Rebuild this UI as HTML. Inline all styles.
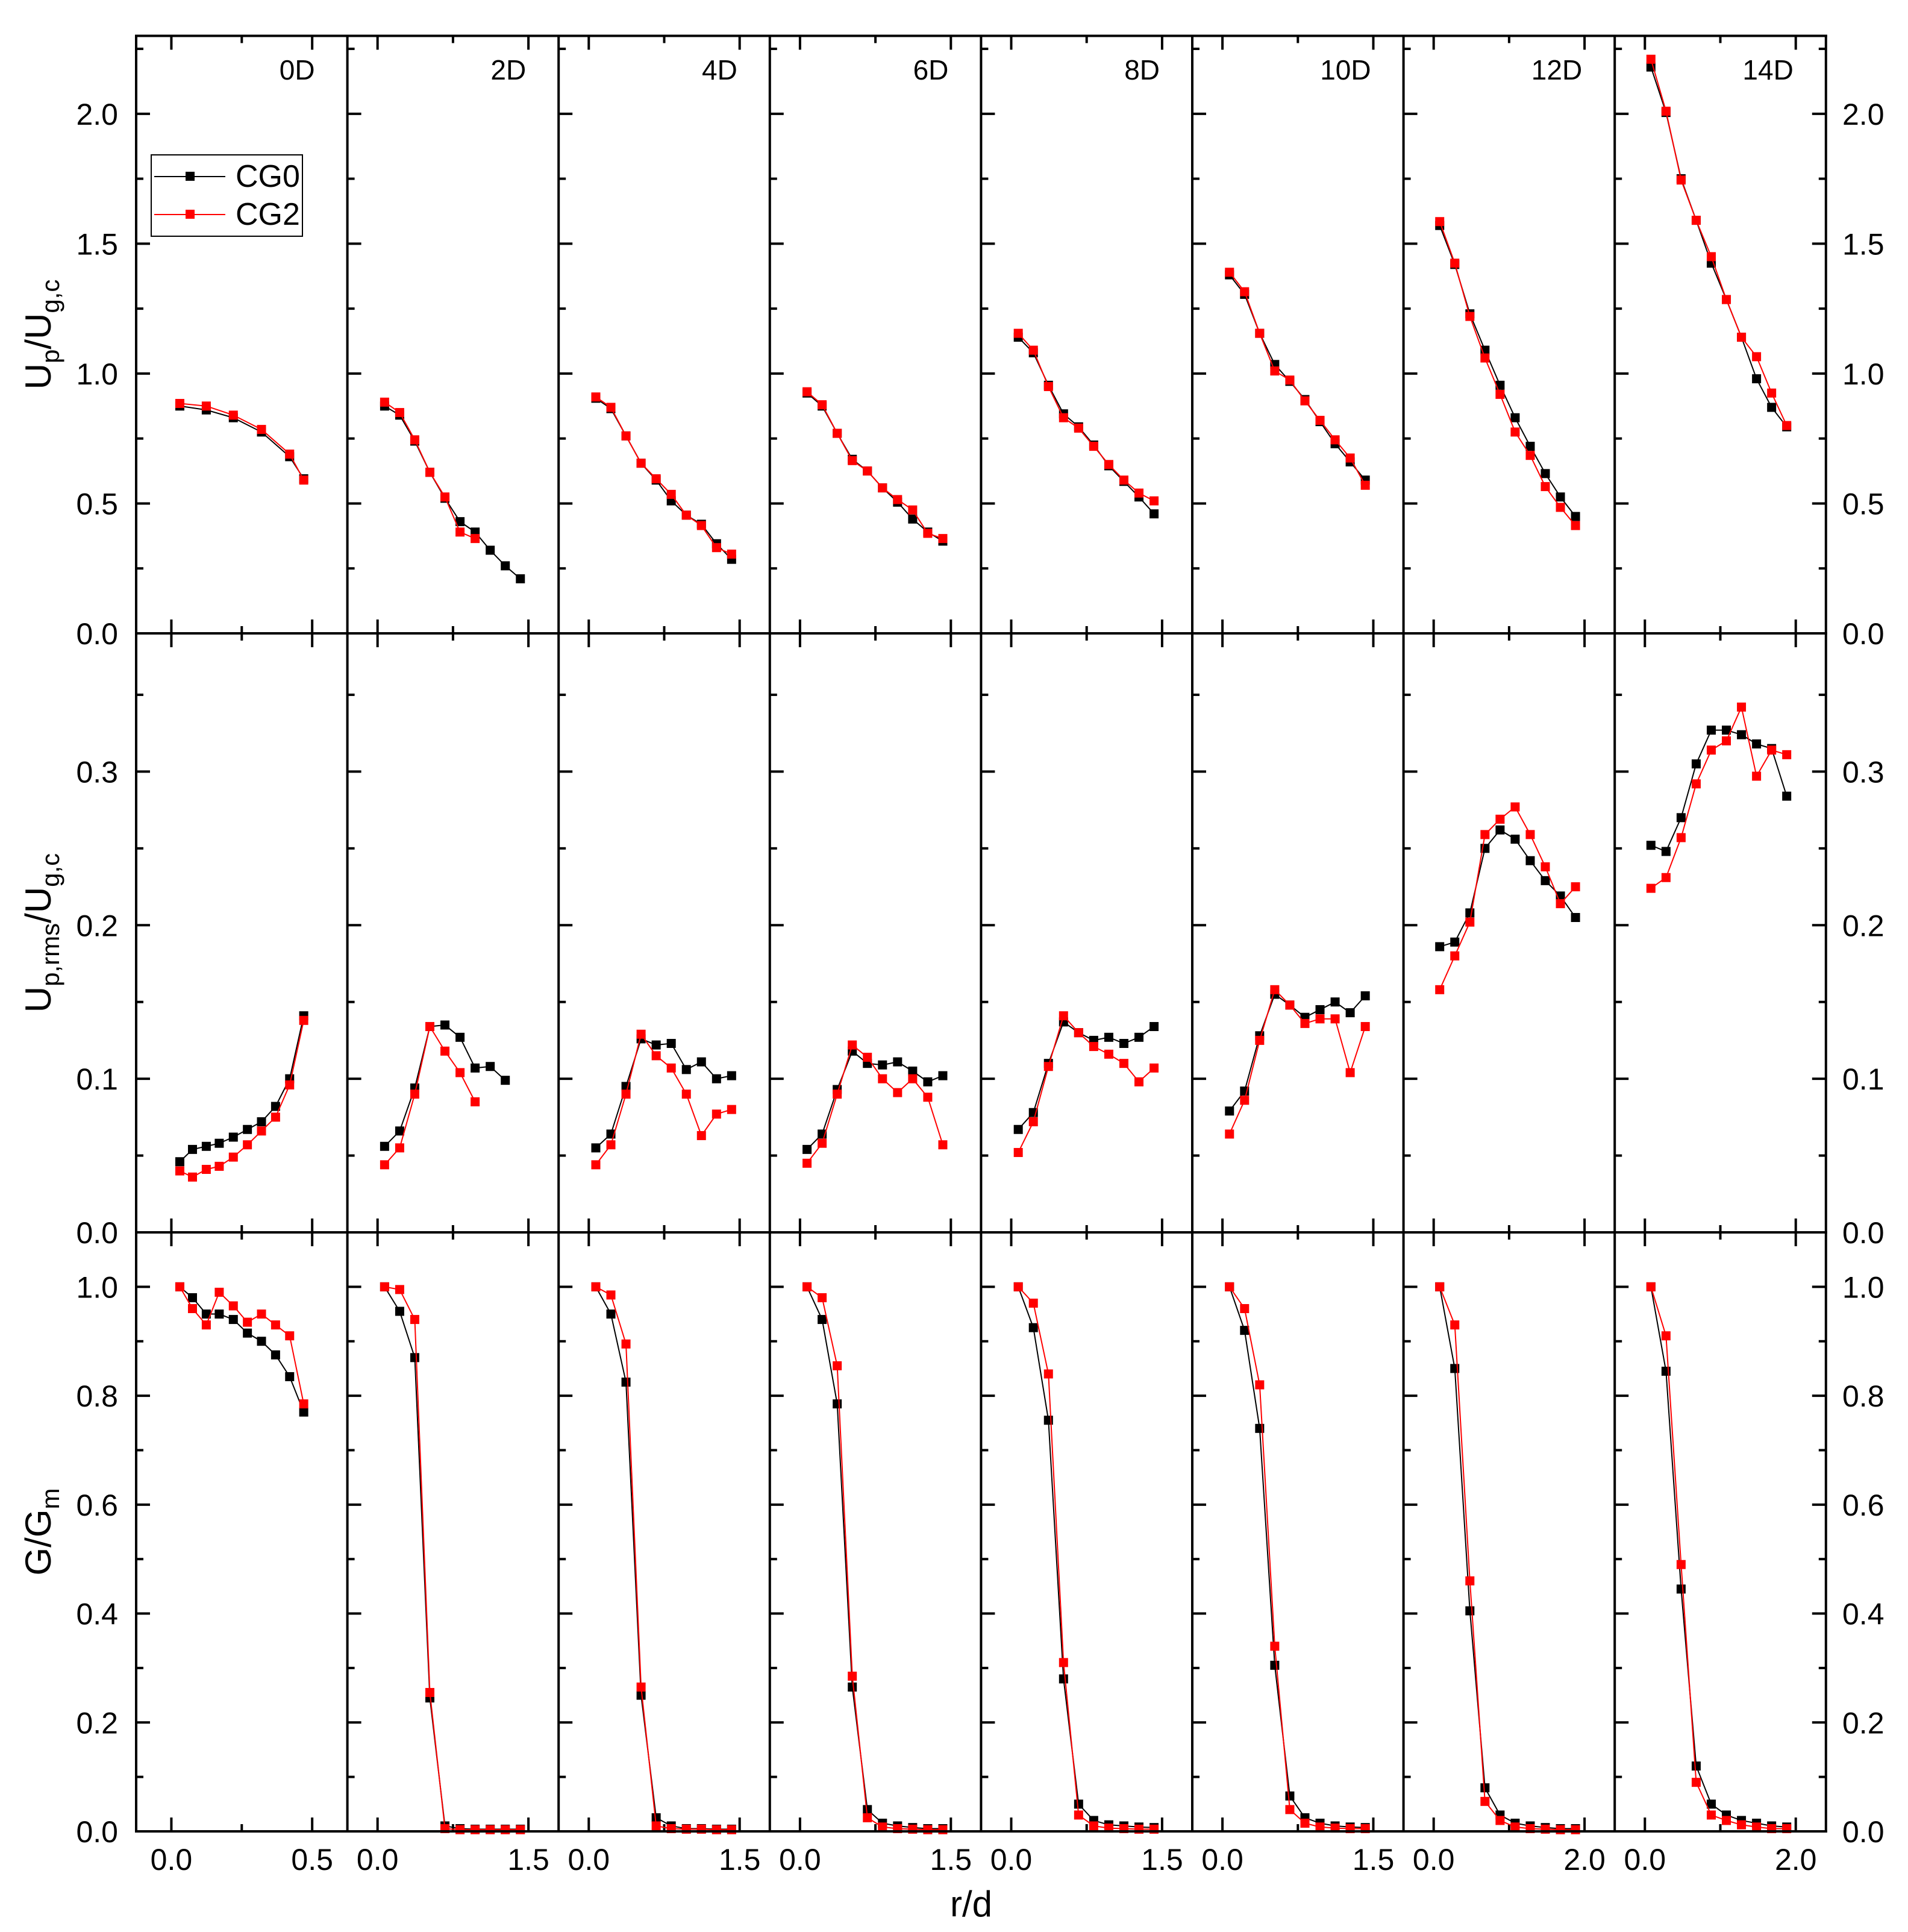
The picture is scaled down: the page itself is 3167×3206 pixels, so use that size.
<!DOCTYPE html>
<html><head><meta charset="utf-8"><style>
html,body{margin:0;padding:0;background:#fff;}
svg{display:block;font-family:"Liberation Sans",Arial,sans-serif;}
</style></head><body>
<svg id="chart" width="3167" height="3206" viewBox="0 0 3167 3206" xmlns="http://www.w3.org/2000/svg"></svg>
<script>
const stations = ["0D","2D","4D","6D","8D","10D","12D","14D"];
const rGrid0 = [0.03,0.075,0.124,0.17,0.22,0.27,0.32,0.37,0.42,0.47];
const rGridTop0 = [0.03,0.124,0.22,0.32,0.42,0.47];
const rGridMid = [0.07,0.22,0.37,0.52,0.67,0.82,0.97,1.12,1.27,1.42];
const rGridFar = [0.08,0.28,0.48,0.68,0.88,1.08,1.28,1.48,1.68,1.88];

const upCG0 = [
 [0.875,0.86,0.83,0.775,0.68,0.595],
 [0.875,0.84,0.74,0.62,0.52,0.43,0.39,0.32,0.26,0.21],
 [0.905,0.865,0.76,0.655,0.59,0.51,0.455,0.42,0.345,0.285],
 [0.925,0.875,0.77,0.67,0.625,0.56,0.505,0.44,0.39,0.355],
 [1.14,1.08,0.955,0.845,0.795,0.725,0.645,0.585,0.525,0.46],
 [1.38,1.305,1.155,1.035,0.97,0.9,0.815,0.73,0.66,0.59],
 [1.57,1.42,1.23,1.09,0.955,0.83,0.72,0.615,0.525,0.45],
 [2.18,2.005,1.75,1.59,1.425,1.285,1.14,0.98,0.87,0.795]];
const upCG2 = [
 [0.885,0.875,0.84,0.785,0.69,0.59],
 [0.89,0.85,0.745,0.62,0.525,0.39,0.365],
 [0.91,0.87,0.76,0.655,0.595,0.535,0.455,0.415,0.33,0.305],
 [0.93,0.88,0.77,0.665,0.625,0.56,0.515,0.475,0.385,0.365],
 [1.155,1.09,0.95,0.83,0.79,0.72,0.65,0.59,0.54,0.51],
 [1.39,1.315,1.155,1.01,0.975,0.895,0.82,0.745,0.675,0.57],
 [1.585,1.425,1.22,1.06,0.92,0.775,0.685,0.565,0.485,0.415],
 [2.21,2.01,1.745,1.59,1.45,1.285,1.14,1.065,0.925,0.8]];
const rmsCG0 = [
 [0.046,0.054,0.056,0.058,0.062,0.067,0.072,0.082,0.1,0.141],
 [0.056,0.066,0.094,0.134,0.135,0.127,0.107,0.108,0.099],
 [0.055,0.064,0.095,0.126,0.122,0.123,0.106,0.111,0.1,0.102],
 [0.054,0.064,0.093,0.118,0.11,0.109,0.111,0.105,0.098,0.102],
 [0.067,0.078,0.11,0.137,0.13,0.125,0.127,0.123,0.127,0.134],
 [0.079,0.092,0.128,0.155,0.148,0.14,0.145,0.15,0.143,0.154],
 [0.186,0.189,0.208,0.25,0.262,0.256,0.242,0.229,0.219,0.205],
 [0.252,0.248,0.27,0.305,0.327,0.327,0.324,0.318,0.315,0.284]];
const rmsCG2 = [
 [0.04,0.036,0.041,0.043,0.049,0.057,0.066,0.075,0.096,0.138],
 [0.044,0.055,0.09,0.134,0.118,0.104,0.085],
 [0.044,0.057,0.09,0.129,0.115,0.107,0.09,0.063,0.077,0.08],
 [0.045,0.058,0.09,0.122,0.114,0.1,0.091,0.1,0.088,0.057],
 [0.052,0.072,0.108,0.141,0.13,0.121,0.116,0.11,0.098,0.107],
 [0.064,0.086,0.125,0.158,0.148,0.136,0.139,0.139,0.104,0.134],
 [0.158,0.18,0.202,0.259,0.269,0.277,0.259,0.238,0.214,0.225],
 [0.224,0.231,0.257,0.292,0.314,0.32,0.342,0.297,0.314,0.311]];
const gCG0 = [
 [1.0,0.98,0.95,0.95,0.94,0.915,0.9,0.875,0.835,0.77],
 [1.0,0.955,0.87,0.245,0.01,0.005,0.004,0.004,0.004,0.004],
 [1.0,0.95,0.825,0.25,0.025,0.01,0.005,0.005,0.004,0.004],
 [1.0,0.94,0.785,0.265,0.04,0.015,0.01,0.007,0.005,0.005],
 [1.0,0.925,0.755,0.28,0.05,0.02,0.012,0.01,0.008,0.007],
 [1.0,0.92,0.74,0.305,0.065,0.025,0.015,0.01,0.008,0.007],
 [1.0,0.85,0.405,0.08,0.03,0.015,0.01,0.007,0.005,0.005],
 [1.0,0.845,0.445,0.12,0.05,0.03,0.02,0.015,0.01,0.008]];
const gCG2 = [
 [1.0,0.96,0.93,0.99,0.965,0.935,0.95,0.93,0.91,0.785],
 [1.0,0.995,0.94,0.255,0.005,0.003,0.003,0.003,0.003,0.003],
 [1.0,0.985,0.895,0.265,0.01,0.005,0.004,0.004,0.003,0.003],
 [1.0,0.98,0.855,0.285,0.025,0.008,0.005,0.004,0.003,0.003],
 [1.0,0.97,0.84,0.31,0.03,0.01,0.006,0.005,0.004,0.004],
 [1.0,0.96,0.82,0.34,0.04,0.015,0.008,0.006,0.005,0.005],
 [1.0,0.93,0.46,0.055,0.02,0.008,0.005,0.004,0.003,0.003],
 [1.0,0.91,0.49,0.09,0.03,0.02,0.012,0.008,0.005,0.005]];

const NS="http://www.w3.org/2000/svg";
const svg=document.getElementById('chart');
function mk(tag,attrs,parent){const e=document.createElementNS(NS,tag);for(const k in attrs)e.setAttribute(k,attrs[k]);(parent||svg).appendChild(e);return e;}

const X0=226, PW=350.6;
const xr=[[-0.125,0.625],[-0.3,1.8],[-0.3,1.8],[-0.3,1.8],[-0.3,1.8],[-0.3,1.8],[-0.4,2.4],[-0.4,2.4]];
const xMaj=[[0,0.5],[0,1.5],[0,1.5],[0,1.5],[0,1.5],[0,1.5],[0,2],[0,2]];
const xMin=[[0.25],[0.75],[0.75],[0.75],[0.75],[0.75],[1],[1]];
const rows=[
 {top:59.5,bot:1051,min:0,max:2.3,maj:[0,0.5,1,1.5,2],min2:[0.25,0.75,1.25,1.75,2.25],lab:v=>v.toFixed(1),A:upCG0,B:upCG2,name:'mean-velocity'},
 {top:1051,bot:2045,min:0,max:0.39,maj:[0,0.1,0.2,0.3],min2:[0.05,0.15,0.25,0.35],lab:v=>v.toFixed(1),A:rmsCG0,B:rmsCG2,name:'rms-velocity'},
 {top:2045,bot:3039,min:0,max:1.1,maj:[0,0.2,0.4,0.6,0.8,1.0],min2:[0.1,0.3,0.5,0.7,0.9],lab:v=>v.toFixed(1),A:gCG0,B:gCG2,name:'mass-flux'}];
function xs(p){const g=p===0?null:(p>=6?rGridFar:rGridMid);return g;}
function sx(p,v){const L=X0+PW*p;return L+(v-xr[p][0])/(xr[p][1]-xr[p][0])*PW;}
function sy(r,v){return r.bot-(v-r.min)/(r.max-r.min)*(r.bot-r.top);}

rows.forEach((r,ri)=>{
  for(let p=0;p<8;p++){
    const g=mk('g',{});
    
    
    const L=X0+PW*p,R=L+PW;
    // y ticks left
    r.maj.forEach(v=>{const y=sy(r,v);mk('line',{x1:L,x2:L+23,y1:y,y2:y,stroke:'#000','stroke-width':4},g);});
    r.min2.forEach(v=>{const y=sy(r,v);mk('line',{x1:L,x2:L+12,y1:y,y2:y,stroke:'#000','stroke-width':4},g);});
    if(p===7){
      r.maj.forEach(v=>{const y=sy(r,v);mk('line',{x1:R,x2:R-23,y1:y,y2:y,stroke:'#000','stroke-width':4},g);});
      r.min2.forEach(v=>{const y=sy(r,v);mk('line',{x1:R,x2:R-12,y1:y,y2:y,stroke:'#000','stroke-width':4},g);});
    }
    // x ticks bottom (up) and top (down)
    xMaj[p].forEach(v=>{const x=sx(p,v);
      mk('line',{x1:x,x2:x,y1:r.bot,y2:r.bot-23,stroke:'#000','stroke-width':4},g);
      mk('line',{x1:x,x2:x,y1:r.top,y2:r.top+23,stroke:'#000','stroke-width':4},g);});
    xMin[p].forEach(v=>{const x=sx(p,v);
      mk('line',{x1:x,x2:x,y1:r.bot,y2:r.bot-12,stroke:'#000','stroke-width':4},g);
      mk('line',{x1:x,x2:x,y1:r.top,y2:r.top+12,stroke:'#000','stroke-width':4},g);});
    // series
    [[r.A,'#000','cg0'],[r.B,'#f00','cg2']].forEach(([D,c,n])=>{
      const vals=D[p];
      const grid=p===0?(vals.length===6?rGridTop0:rGrid0):(p>=6?rGridFar:rGridMid);
      const pts=vals.map((v,i)=>[sx(p,grid[i]),sy(r,v)]);
      const pl=mk('polyline',{points:pts.map(q=>q.join(',')).join(' '),fill:'none',stroke:c,'stroke-width':2},g);
      
      
      pts.forEach(q=>{const m=mk('rect',{x:q[0]-7.5,y:q[1]-7.5,width:15,height:15,fill:c},g);
        
        });
    });
    if(ri===0){
      const t=mk('text',{x:R-54,y:132,'font-size':46,'text-anchor':'end'},g);
      t.textContent=stations[p];
      
      
    }
    if(ri===2){
      xMaj[p].forEach(v=>{const t=mk('text',{x:sx(p,v),y:3103,'font-size':50,'text-anchor':'middle'},g);
        t.textContent=v.toFixed(1);
        
        });
    }
  }
  // y tick labels
  r.maj.forEach(v=>{const y=sy(r,v);
    const t=mk('text',{x:196,y:y+18,'font-size':50,'text-anchor':'end'});t.textContent=r.lab(v);
    
    
    const t2=mk('text',{x:3058,y:y+18,'font-size':50,'text-anchor':'start'});t2.textContent=r.lab(v);
    
    });
});
// frame lines
for(let p=0;p<=8;p++){const x=X0+PW*p;const l=mk('line',{x1:x,x2:x,y1:57.5,y2:3041,stroke:'#000','stroke-width':4});
  
  }
[59.5,1051,2045,3039].forEach(y=>{const l=mk('line',{x1:X0-2,x2:X0+PW*8+2,y1:y,y2:y,stroke:'#000','stroke-width':4});
  
  });
// legend
const lg=mk('g',{});


mk('rect',{x:251,y:257,width:251,height:135,fill:'#fff',stroke:'#000','stroke-width':2},lg);
mk('line',{x1:256,x2:374,y1:293,y2:293,stroke:'#000','stroke-width':2},lg);
mk('rect',{x:308,y:285,width:15,height:15,fill:'#000'},lg);
mk('line',{x1:256,x2:374,y1:356,y2:356,stroke:'#f00','stroke-width':2},lg);
mk('rect',{x:308,y:348,width:15,height:15,fill:'#f00'},lg);
const l1=mk('text',{x:391,y:310,'font-size':52},lg);l1.textContent='CG0';


const l2=mk('text',{x:391,y:373,'font-size':52},lg);l2.textContent='CG2';


// axis titles
function ytitle(cy,html,name){const t=mk('text',{x:0,y:0,'font-size':60,'text-anchor':'middle',transform:`translate(84,${cy}) rotate(-90)`});t.innerHTML=html;
  
  }
ytitle(555,'U<tspan font-size="42" dy="14">p</tspan><tspan dy="-14">/U</tspan><tspan font-size="42" dy="14">g,c</tspan>','y-axis-title-mean');
ytitle(1548,'U<tspan font-size="42" dy="14">p,rms</tspan><tspan dy="-14">/U</tspan><tspan font-size="42" dy="14">g,c</tspan>','y-axis-title-rms');
ytitle(2542,'G/G<tspan font-size="42" dy="14">m</tspan>','y-axis-title-flux');
const xt=mk('text',{x:1612,y:3180,'font-size':60,'text-anchor':'middle'});xt.textContent='r/d';


</script>
</body></html>
